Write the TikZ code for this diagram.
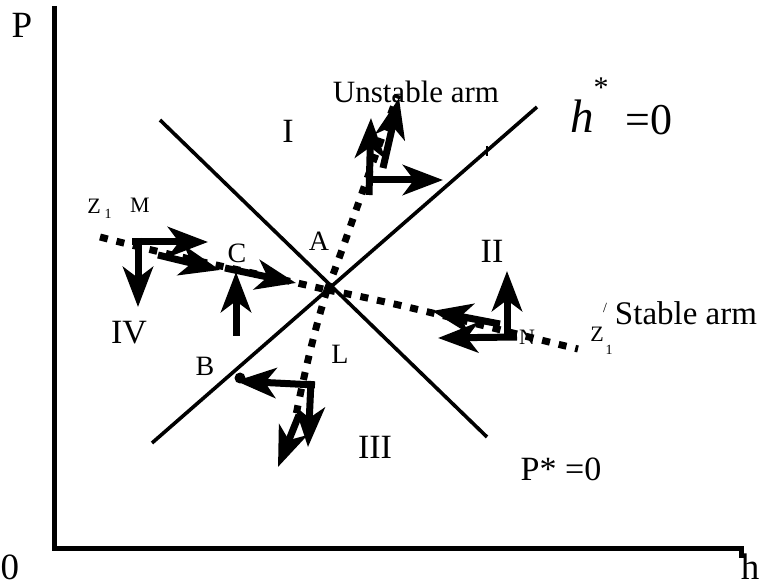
\documentclass[tikz,border=0pt]{standalone}
\usepackage{fontspec}
\setmainfont{Liberation Serif}
\usetikzlibrary{arrows.meta}
\begin{document}
\begin{tikzpicture}[x=1pt,y=-1pt,
  big/.style={inner sep=0pt,font=\fontsize{34}{38}\selectfont},
  axl/.style={inner sep=0pt,font=\fontsize{37}{40}\selectfont},
  mid/.style={inner sep=0pt,font=\fontsize{28}{32}\selectfont},
  sml/.style={inner sep=0pt,font=\fontsize{22}{24}\selectfont},
  sub/.style={inner sep=0pt,font=\fontsize{14}{16}\selectfont},
  axis/.style={line width=5pt},
  locus/.style={line width=3.6pt},
  path/.style={line width=7pt,dash pattern=on 8pt off 9pt},
  flow/.style={line width=7pt,-{Stealth[length=40pt,width=30pt,inset=11pt]}}]
\useasboundingbox (0,0) rectangle (764,588);
% axes
\coordinate (O) at (54,548);
\coordinate (Ptop) at (54,6);
\coordinate (Hend) at (741,548);
\coordinate (Hend2) at (741,558);
\draw[axis] (Ptop) -- (O) -- (Hend) -- (Hend2);
\node[axl] (P) at (22,25) {P};
\node[axl] (zero) at (10,567) {0};
\node[axl] (h) at (750,567) {h};
% loci
\coordinate (hs1) at (152,443);
\coordinate (hs2) at (537,107);
\coordinate (ps1) at (160,120);
\coordinate (ps2) at (487,437);
\draw[locus] (hs1) -- (hs2);
\draw[locus] (ps1) -- (ps2);
\coordinate (tk1) at (487,146);
\coordinate (tk2) at (487,156);
\draw[line width=2pt] (tk1) -- (tk2);
% labels
\node[big] (I) at (288,131) {I};
\node[big] (II) at (492,251) {II};
\node[big] (III) at (375,447) {III};
\node[big] (IV) at (129,333) {IV};
\node[inner sep=0pt,font=\fontsize{31}{34}\selectfont] (ua) at (416,92) {Unstable arm};
\node[inner sep=0pt,font=\fontsize{33}{36}\selectfont] (sa) at (686,313) {Stable arm};
\node[inner sep=0pt,font=\fontsize{47}{50}\selectfont\itshape] (hh) at (582,116) {h};
\node[inner sep=0pt,font=\fontsize{30}{32}\selectfont] (hst) at (601,88) {*};
\node[inner sep=0pt,font=\fontsize{44}{46}\selectfont] (heq) at (649,120) {=0};
\node[big] (pstar) at (561,469) {P* =0};
\node[mid] (A) at (319,241) {A};
\node[mid] (B) at (205,366) {B};
\node[mid] (C) at (237,253) {C};
\node[mid] (L) at (340,354) {L};
\node[sml] (M) at (140,205) {M};
\node[sml] (N) at (527,337) {N};
\node[sml] (Z1) at (94,206) {Z};
\node[sub] (Z1s) at (108,214) {1};
\node[sml] (Z2) at (597,334) {Z};
\node[sub] (Z2s) at (609,350) {1};
\node[sub] (Z2p) at (605,308) {/};
% saddle paths
\coordinate (E) at (327,290);
\coordinate (u1) at (345,245);
\coordinate (u2) at (368,172);
\coordinate (u3) at (398,95);
\coordinate (l1) at (313,335);
\coordinate (l2) at (303,380);
\coordinate (l3) at (295,420);
\coordinate (r1) at (400,303);
\coordinate (r2) at (510,333);
\coordinate (r3) at (578,349);
\coordinate (z1) at (100,237);
\coordinate (z2) at (200,263);
\coordinate (z3) at (270,276);
\draw[path] (E) .. controls (u1) and (u2) .. (u3);
\draw[path] (E) .. controls (l1) and (l2) .. (l3);
\draw[path] (E) .. controls (r1) and (r2) .. (r3);
\draw[path] (z1) .. controls (z2) and (z3) .. (E);
% flow arrows, upper
\coordinate (a1s) at (369,195);
\coordinate (a1e) at (371,118);
\coordinate (a2s) at (383,168);
\coordinate (a2e) at (399,98);
\coordinate (a3s) at (368,180);
\coordinate (a3e) at (443,180);
\draw[flow] (a1s) -- (a1e);
\draw[flow] (a2s) -- (a2e);
\draw[flow] (a3s) -- (a3e);
% flow arrows, left
\coordinate (m1s) at (132,242);
\coordinate (m1e) at (208,242);
\coordinate (m2s) at (138,238);
\coordinate (m2e) at (138,307);
\coordinate (m3s) at (158,255);
\coordinate (m3e) at (220,270);
\coordinate (c1s) at (225,268);
\coordinate (c1e) at (296,283);
\coordinate (c2s) at (236,336);
\coordinate (c2e) at (236,272);
\draw[flow] (m1s) -- (m1e);
\draw[flow] (m2s) -- (m2e);
\draw[flow] (m3s) -- (m3e);
\draw[flow] (c1s) -- (c1e);
\draw[flow] (c2s) -- (c2e);
% flow arrows, right
\coordinate (n1s) at (507,338);
\coordinate (n1e) at (507,271);
\coordinate (n2s) at (500,324);
\coordinate (n2e) at (432,311);
\coordinate (n3s) at (517,337);
\coordinate (n3e) at (438,338);
\draw[flow] (n1s) -- (n1e);
\draw[flow] (n2s) -- (n2e);
\draw[flow] (n3s) -- (n3e);
% flow arrows, lower
\coordinate (b1s) at (315,385);
\coordinate (b1e) at (236,381);
\coordinate (b2s) at (311,381);
\coordinate (b2e) at (308,447);
\coordinate (b3s) at (299,415);
\coordinate (b3e) at (278,467);
\draw[flow] (b1s) -- (b1e);
\draw[flow] (b2s) -- (b2e);
\draw[flow] (b3s) -- (b3e);
\node[circle,fill,inner sep=0pt,minimum size=11pt] (Bdot) at (240,378) {};
\end{tikzpicture}
\end{document}
